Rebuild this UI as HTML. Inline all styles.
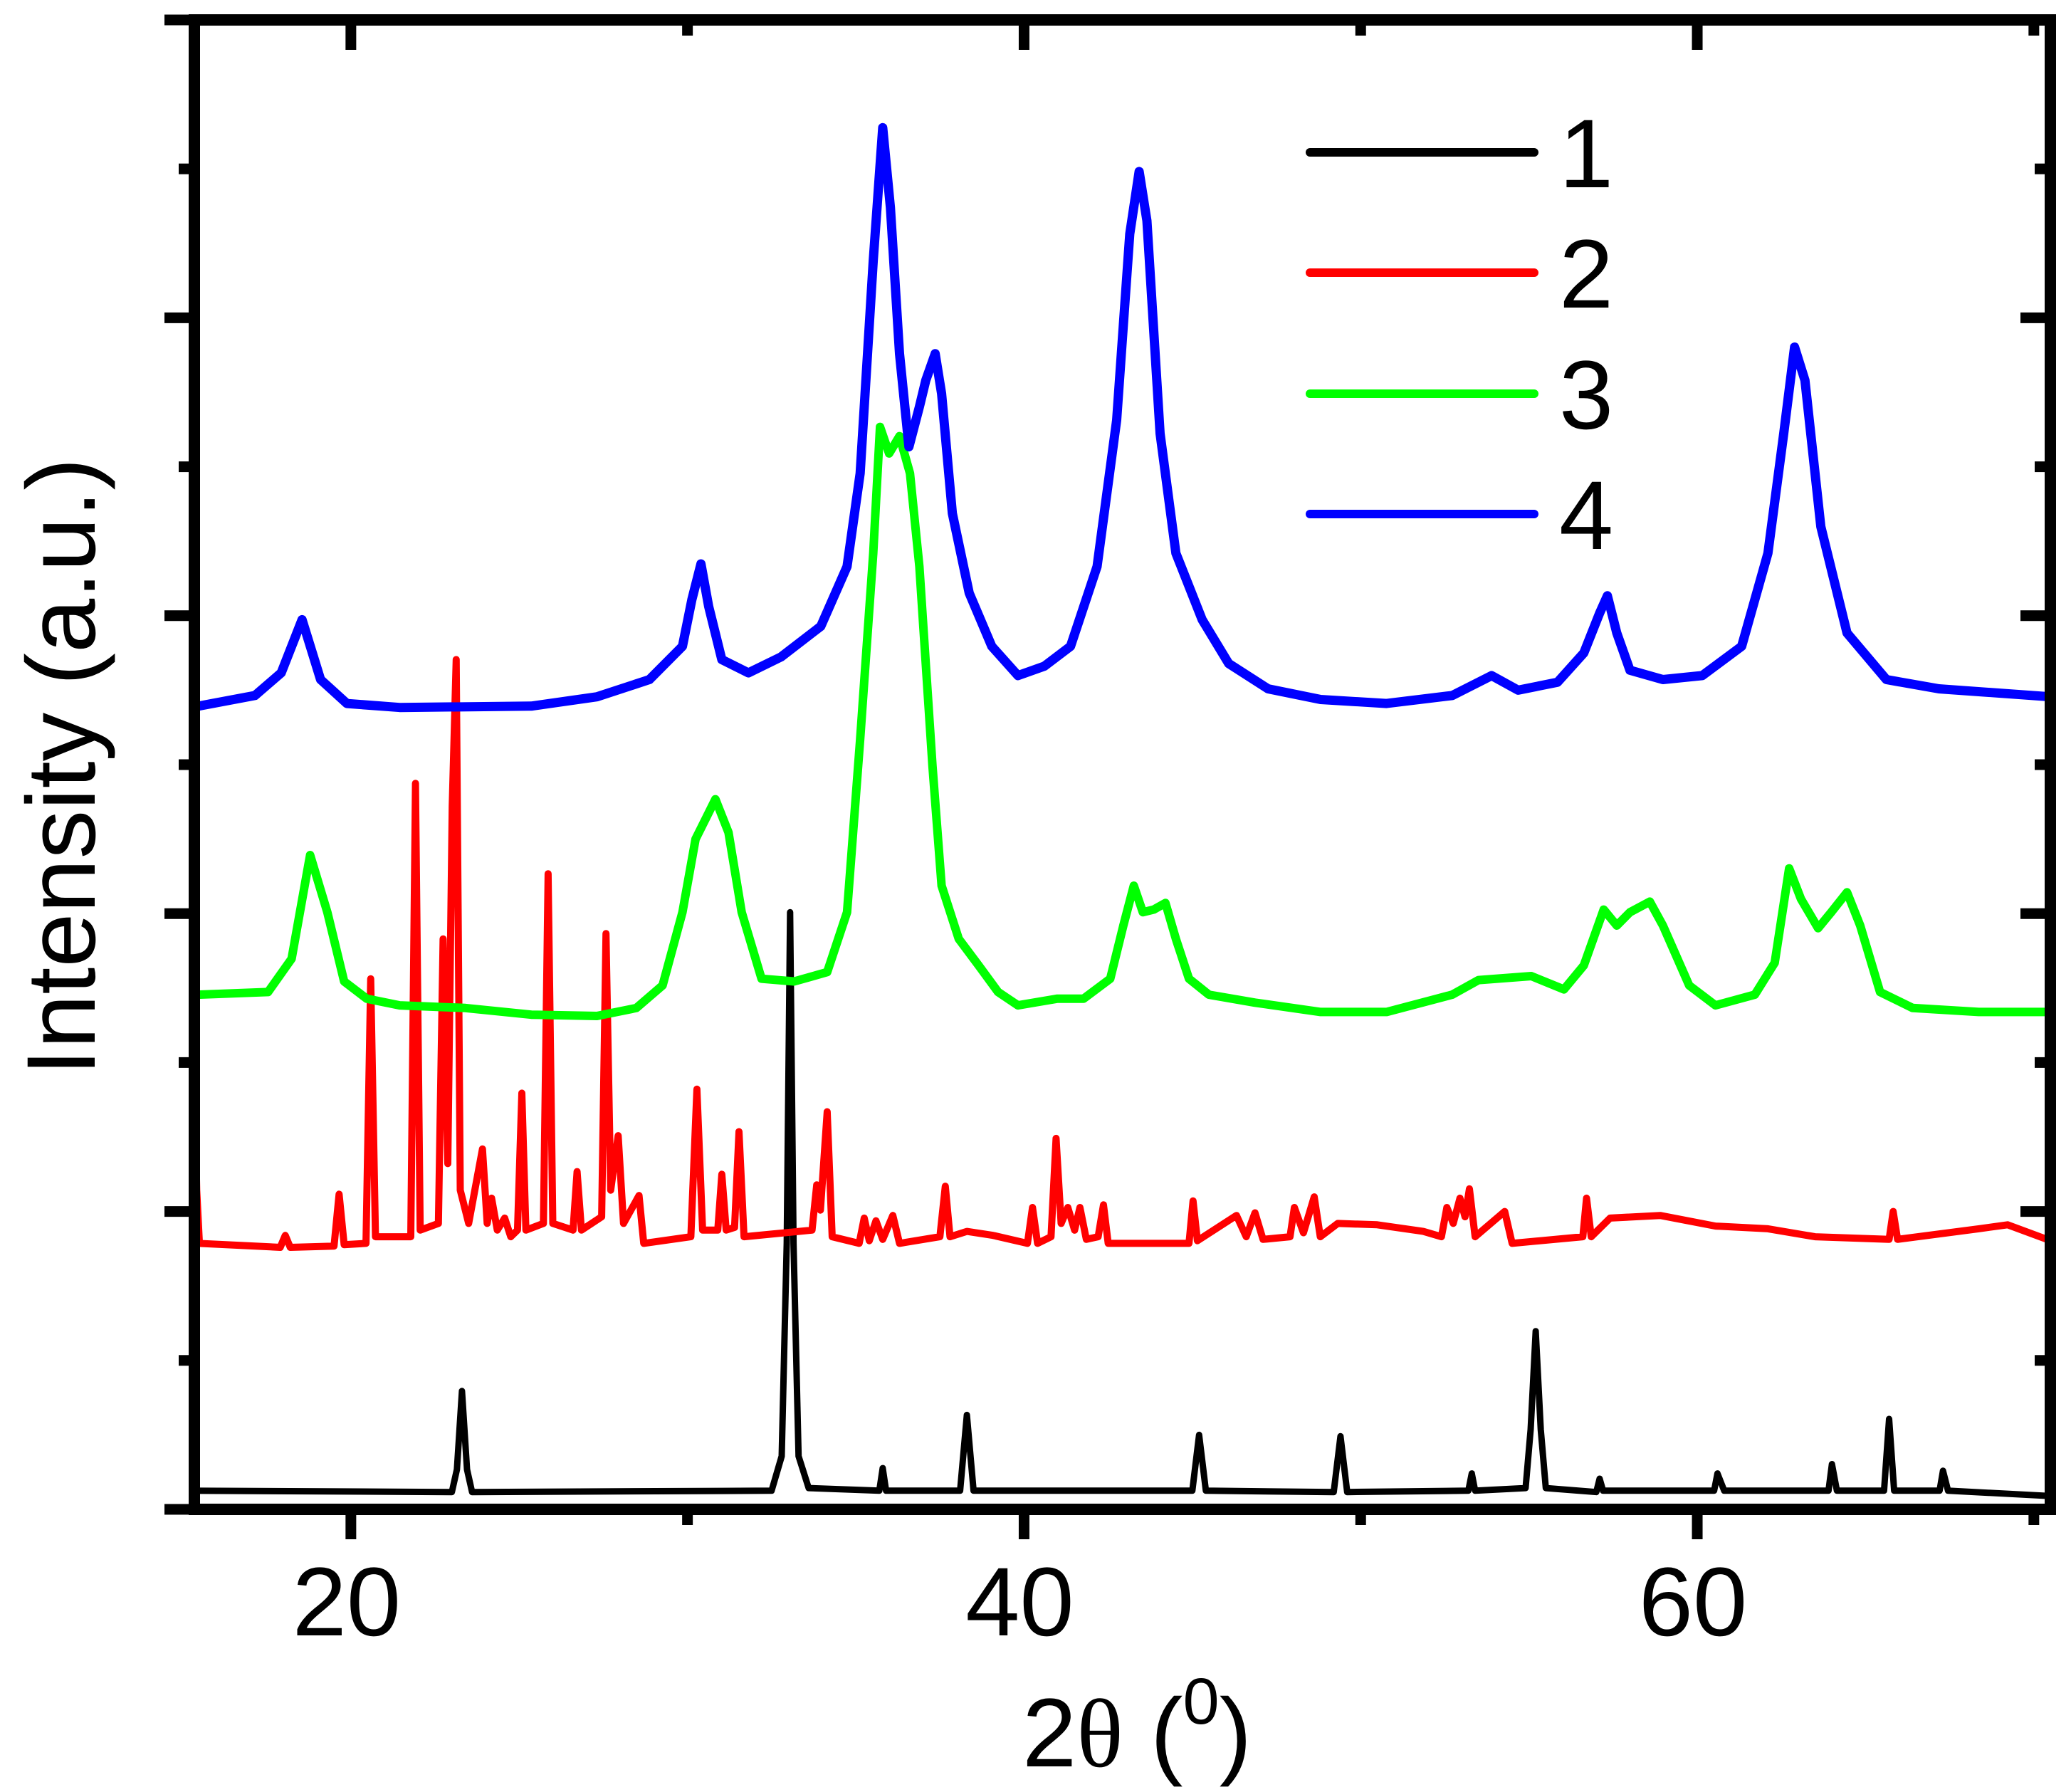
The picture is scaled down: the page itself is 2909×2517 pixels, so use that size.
<!DOCTYPE html>
<html><head><meta charset="utf-8"><title>XRD patterns</title>
<style>html,body{margin:0;padding:0;background:#fff;}svg{display:block;}</style></head>
<body>
<svg id="chart" width="2909" height="2517" viewBox="0 0 2909 2517" xmlns="http://www.w3.org/2000/svg" font-family="'Liberation Sans', Arial, sans-serif">
<defs><clipPath id="plotclip"><rect x="281" y="36" width="2591" height="2075"/></clipPath></defs>
<g id="series" clip-path="url(#plotclip)"></g>
<g id="axes"></g>
<g id="legend"></g>
</svg>
<script>
// ---- data ----
const xTickValues = [20, 40, 60];
const xTickLabels = ["20", "40", "60"];
const xMinorValues = [30, 50, 70];
const yMajorValues = [0, 224, 448, 672, 896, 1120];
const yMinorValues = [112, 336, 560, 784, 1008];
const seriesNames = ["1", "2", "3", "4"];
const seriesColors = ["#000000", "#ff0000", "#00ff00", "#0000ff"];

const s1x = [15.4,23.0,23.15,23.3,23.45,23.6,32.5,32.8,32.95,33.05,33.15,33.3,33.6,35.7,35.8,35.9,38.1,38.3,38.5,45.0,45.2,45.4,49.2,49.4,49.6,53.2,53.3,53.4,54.9,55.05,55.2,55.35,55.5,57.0,57.1,57.2,60.5,60.6,60.8,63.9,64.0,64.15,65.55,65.7,65.85,67.2,67.3,67.45,70.5];
const s1y = [14,13,30,89,30,13,14,40,200,449,200,40,16,14,31,14,14,71,14,14,56,14,13,55,13,14,27,14,16,60,134,60,16,13,23,14,14,27,14,14,34,14,14,68,14,14,29,14,10];

const s2x = [15.35,15.42,15.5,17.9,18.05,18.2,19.5,19.65,19.8,20.45,20.59,20.73,21.78,21.92,22.06,22.6,22.74,22.88,23.01,23.13,23.25,23.5,23.91,24.05,24.18,24.35,24.57,24.75,24.95,25.08,25.2,25.72,25.86,26.0,26.6,26.72,26.85,27.45,27.58,27.72,27.94,28.1,28.56,28.7,30.1,30.28,30.45,30.9,31.02,31.15,31.4,31.53,31.68,33.7,33.84,33.95,34.15,34.3,35.1,35.25,35.4,35.6,35.8,36.1,36.3,37.5,37.66,37.8,38.3,39.08,40.1,40.25,40.4,40.8,40.95,41.1,41.3,41.5,41.66,41.85,42.2,42.36,42.5,44.9,45.02,45.15,46.31,46.6,46.86,47.1,47.9,48.03,48.3,48.62,48.8,49.32,50.49,51.86,52.4,52.56,52.75,52.95,53.1,53.23,53.4,54.28,54.5,56.6,56.71,56.85,57.41,58.9,60.54,62.1,63.5,65.7,65.82,65.95,68.36,69.22,70.5];
const s2y = [329,240,200,197,206,197,198,237,199,200,399,205,205,546,210,215,429,260,529,639,240,215,271,215,234,210,219,205,210,313,210,215,478,215,210,254,210,220,433,240,281,215,236,200,205,316,210,210,252,210,212,284,205,210,244,225,299,205,200,219,202,217,203,221,200,205,243,205,209,206,200,227,200,205,279,215,227,210,227,203,205,229,200,200,232,202,221,205,223,203,205,227,208,235,205,215,214,209,205,227,215,234,220,241,205,224,200,205,234,205,219,221,213,211,205,203,224,203,211,214,202];

const s3x = [15.47,17.54,18.24,18.79,19.3,19.8,20.47,21.45,23.4,25.36,27.31,28.48,29.26,29.85,30.24,30.83,31.22,31.61,32.2,33.17,34.15,34.74,35.13,35.52,35.72,35.99,36.3,36.61,36.89,37.28,37.55,38.06,38.65,39.23,39.82,40.99,41.77,42.56,42.95,43.26,43.53,43.85,44.2,44.51,44.9,45.49,46.86,48.81,50.77,52.72,53.5,55.07,56.04,56.63,57.22,57.61,58.0,58.59,58.98,59.76,60.54,61.71,62.3,62.73,63.08,63.59,63.98,64.45,64.84,65.43,66.4,68.36,70.5];
const s3y = [387,389,414,492,449,397,384,379,377,372,371,377,394,449,504,534,509,449,399,397,404,449,579,719,814,794,807,779,709,559,469,429,409,389,379,384,384,399,439,469,449,451,456,429,399,387,381,374,374,387,398,401,391,409,451,439,449,457,439,394,379,387,411,482,459,437,449,464,439,389,377,374,374];

const s4x = [15.47,17.15,17.93,18.55,19.1,19.88,21.45,25.36,27.31,28.87,29.85,30.13,30.4,30.63,31.02,31.81,32.78,33.96,34.74,35.13,35.52,35.8,36.03,36.3,36.58,36.89,37.08,37.36,37.55,37.87,38.37,39.04,39.82,40.6,41.38,42.17,42.75,43.14,43.42,43.65,44.04,44.51,45.29,46.08,47.25,48.81,50.77,52.72,53.89,54.68,55.85,56.63,57.1,57.33,57.61,58.0,58.98,60.15,61.32,62.1,62.57,62.89,63.2,63.67,64.45,65.62,67.18,70.5];
const s4y = [604,612,629,669,624,606,603,604,611,624,649,684,711,679,639,629,641,664,709,779,939,1039,979,869,799,829,849,869,839,749,689,649,627,634,649,709,819,959,1006,969,809,719,669,636,617,609,606,612,627,616,622,644,674,687,659,631,624,627,649,719,809,874,849,739,659,624,617,611];

// ---- axis functions ----
const X0 = 273, X1 = 2880, Y0 = 2120, Y1 = 28;
const xMin = 15.35, xMax = 70.49, yMin = 0, yMax = 1120;
function xs(v){ return X0 + (v - xMin) / (xMax - xMin) * (X1 - X0); }
function ys(v){ return Y0 - (v - yMin) / (yMax - yMin) * (Y0 - Y1); }

const NS = "http://www.w3.org/2000/svg";
function mk(tag, attrs, parent){
  const e = document.createElementNS(NS, tag);
  for (const k in attrs) e.setAttribute(k, attrs[k]);
  parent.appendChild(e);
  return e;
}

// ---- series ----
const seriesG = document.getElementById('series');
const allX = [s1x, s2x, s3x, s4x];
const allY = [s1y, s2y, s3y, s4y];
const widths = [9, 10, 12, 13];
for (let s = 0; s < 4; s++) {
  const pts = allX[s].map((v, i) => xs(v).toFixed(1) + ',' + ys(allY[s][i]).toFixed(1)).join(' ');
  const pl = mk('polyline', {points: pts, fill: 'none', stroke: seriesColors[s], 'stroke-width': widths[s], 'stroke-linejoin': 'round', 'stroke-linecap': 'round'}, seriesG);
  
  
}

// ---- axes ----
const axesG = document.getElementById('axes');
const frame = mk('rect', {x: X0, y: Y1, width: X1 - X0, height: Y0 - Y1, fill: 'none', stroke: '#000', 'stroke-width': 16}, axesG);



xTickValues.forEach((v, i) => {
  const x = xs(v);
  const t = mk('line', {x1: x, y1: Y0 + 8, x2: x, y2: Y0 + 42, stroke: '#000', 'stroke-width': 15}, axesG);
  
  
  const tt = mk('line', {x1: x, y1: Y1 + 8, x2: x, y2: Y1 + 42, stroke: '#000', 'stroke-width': 15}, axesG);
  
  
  const lb = mk('text', {x: x - 6, y: 2297, 'font-size': 137, 'text-anchor': 'middle', fill: '#000'}, axesG);
  lb.textContent = xTickLabels[i];
  
  
});
xMinorValues.forEach(v => {
  const x = xs(v);
  const t = mk('line', {x1: x, y1: Y0 + 8, x2: x, y2: Y0 + 22, stroke: '#000', 'stroke-width': 15}, axesG);
  
  
  const tt = mk('line', {x1: x, y1: Y1 + 8, x2: x, y2: Y1 + 22, stroke: '#000', 'stroke-width': 15}, axesG);
  
  
});
yMajorValues.forEach(v => {
  const y = ys(v);
  const t = mk('line', {x1: X0 - 8, y1: y, x2: X0 - 42, y2: y, stroke: '#000', 'stroke-width': 15}, axesG);
  
  
  const r = mk('line', {x1: X1 - 8, y1: y, x2: X1 - 42, y2: y, stroke: '#000', 'stroke-width': 15}, axesG);
  
  
});
yMinorValues.forEach(v => {
  const y = ys(v);
  const t = mk('line', {x1: X0 - 8, y1: y, x2: X0 - 22, y2: y, stroke: '#000', 'stroke-width': 15}, axesG);
  
  
  const r = mk('line', {x1: X1 - 8, y1: y, x2: X1 - 22, y2: y, stroke: '#000', 'stroke-width': 15}, axesG);
  
  
});

// axis titles
const yt = mk('text', {x: 0, y: 0, 'font-size': 137, 'text-anchor': 'middle', fill: '#000', transform: 'translate(133,1077) rotate(-90)'}, axesG);
yt.textContent = 'Intensity (a.u.)';



const xt = mk('text', {x: 1436, y: 2481, 'font-size': 137, fill: '#000'}, axesG);


const ts1 = mk('tspan', {}, xt); ts1.textContent = '2';
const ts2 = mk('tspan', {'font-family': "'Liberation Serif', serif"}, xt); ts2.textContent = 'θ';
const ts3 = mk('tspan', {}, xt); ts3.textContent = ' (';
const ts4 = mk('tspan', {'font-size': 92, dy: -60}, xt); ts4.textContent = '0';
const ts5 = mk('tspan', {dy: 60}, xt); ts5.textContent = ')';

// ---- legend ----
const legG = document.getElementById('legend');
const legRows = [214, 383, 553, 722];
for (let s = 0; s < 4; s++) {
  const ln = mk('line', {x1: 1840, y1: legRows[s], x2: 2155, y2: legRows[s], stroke: seriesColors[s], 'stroke-width': 12, 'stroke-linecap': 'round'}, legG);
  
  
  const tx = mk('text', {x: 2190, y: legRows[s] + 49, 'font-size': 137, fill: '#000'}, legG);
  tx.textContent = seriesNames[s];
  
  
}
</script>
</body></html>
